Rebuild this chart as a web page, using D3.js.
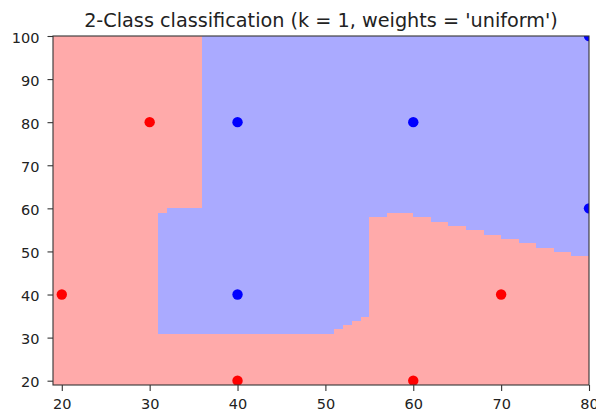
<!DOCTYPE html>
<html>
<head>
<meta charset="utf-8">
<script src="https://cdn.jsdelivr.net/npm/d3@7"></script>
<style>
  html, body { margin: 0; padding: 0; background: #fff; }
  svg { display: block; }
  .tick text { font-family: "DejaVu Sans", sans-serif; font-size: 14.5px; fill: #222; }
</style>
</head>
<body>
<svg id="chart" width="596" height="413"></svg>
<script>
// ---- data ----
const classNames = ["red", "blue"];
const redX  = [20, 30, 40, 60, 70];
const redY  = [40, 80, 20, 20, 40];
const blueX = [40, 60, 40, 80, 80];
const blueY = [80, 80, 40, 100, 60];
const xTicks = [20, 30, 40, 50, 60, 70, 80];
const yTicks = [20, 30, 40, 50, 60, 70, 80, 90, 100];
const meshStep = 1;
const kNeighbors = 1;
const titleText = "2-Class classification (k = 1, weights = 'uniform')";

const lightColors = ["#FFAAAA", "#AAAAFF"];
const boldColors  = ["#FF0000", "#0000FF"];

// training set (red first, so ties resolve to the earlier sample)
const train = [];
redX.forEach((x, i) => train.push({x, y: redY[i], c: 0}));
blueX.forEach((x, i) => train.push({x, y: blueY[i], c: 1}));

// mesh like np.arange(min-1, max+1, h)
const xMin = d3.min(train, d => d.x) - 1, xMax = d3.max(train, d => d.x) + 1;
const yMin = d3.min(train, d => d.y) - 1, yMax = d3.max(train, d => d.y) + 1;
const xs = d3.range(xMin, xMax, meshStep);
const ys = d3.range(yMin, yMax, meshStep);

function predict(px, py) {
  const d = train.map((t, i) => ({i, c: t.c, d: (t.x - px) ** 2 + (t.y - py) ** 2}));
  d.sort((a, b) => a.d - b.d || a.i - b.i);
  const votes = [0, 0];
  d.slice(0, kNeighbors).forEach(n => votes[n.c]++);
  return votes[1] > votes[0] ? 1 : 0;
}

// ---- layout ----
const svg = d3.select("#chart");
const L = 53, R = 589, T = 36, B = 385;
const x = d3.scaleLinear().domain([xs[0], xs[xs.length - 1]]).range([L, R]);
const y = d3.scaleLinear().domain([ys[0], ys[ys.length - 1]]).range([B, T]);

svg.append("defs").append("clipPath").attr("id", "clip")
  .append("rect").attr("x", L).attr("y", T).attr("width", R - L).attr("height", B - T);

const plot = svg.append("g").attr("clip-path", "url(#clip)");

// decision regions (flat shading: cell [x_i, x_i+1] x [y_j, y_j+1] gets Z(x_i, y_j))
plot.append("rect").attr("x", L).attr("y", T).attr("width", R - L).attr("height", B - T)
  .attr("fill", lightColors[0]);

const runs = [];
for (let j = 0; j < ys.length - 1; j++) {
  let start = null;
  for (let i = 0; i < xs.length - 1; i++) {
    const c = predict(xs[i], ys[j]);
    if (c === 1 && start === null) start = i;
    if ((c !== 1 || i === xs.length - 2) && start !== null) {
      const end = c === 1 ? i + 1 : i;
      runs.push({x0: xs[start], x1: xs[end], y0: ys[j], y1: ys[j + 1]});
      start = null;
    }
  }
}
plot.selectAll("rect.cell").data(runs).join("rect")
  .attr("class", "cell")
  .attr("x", d => x(d.x0))
  .attr("width", d => x(d.x1) - x(d.x0))
  .attr("y", d => y(d.y1))
  .attr("height", d => y(d.y0) - y(d.y1) + 0.5)
  .attr("fill", lightColors[1])
  .attr("shape-rendering", "crispEdges");

// training points
plot.selectAll("circle.pt").data(train).join("circle")
  .attr("class", "pt")
  .attr("cx", d => x(d.x))
  .attr("cy", d => y(d.y))
  .attr("r", 5.2)
  .attr("fill", d => boldColors[d.c]);

// axes
const xAxis = d3.axisBottom(x).tickValues(xTicks).tickSize(6).tickPadding(7.5).tickFormat(d3.format("d"));
const yAxis = d3.axisLeft(y).tickValues(yTicks).tickSize(5.5).tickPadding(8).tickFormat(d3.format("d"));

const gx = svg.append("g").attr("transform", `translate(0,${B})`).call(xAxis);
const gy = svg.append("g").attr("transform", `translate(${L},0)`).call(yAxis);
[gx, gy].forEach(g => {
  g.select(".domain").remove();
  g.selectAll(".tick line").attr("stroke", "#333").attr("stroke-width", 1.1);
});
gy.selectAll(".tick text").attr("dy", "0.42em");

// frame
svg.append("rect").attr("x", L).attr("y", T).attr("width", R - L).attr("height", B - T)
  .attr("fill", "none").attr("stroke", "#333").attr("stroke-width", 1.1);

// title, sized to the reference's span
const title = svg.append("text")
  .attr("x", (L + R) / 2).attr("y", 26.5)
  .attr("text-anchor", "middle")
  .attr("font-family", "DejaVu Sans, sans-serif")
  .attr("font-size", 10)
  .attr("fill", "#222")
  .text(titleText);
const w10 = title.node().getComputedTextLength();
title.attr("font-size", Math.min(20, 10 * 474 / w10));
</script>
</body>
</html>
